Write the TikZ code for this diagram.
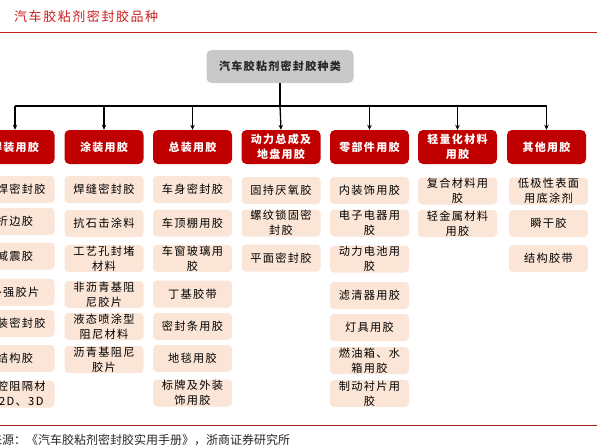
\documentclass[tikz,border=0pt]{standalone}
\usepackage{fontspec}
\setmainfont{Noto Sans CJK SC}[LetterSpace=12]
\newfontfamily\srcfont{Noto Sans CJK SC}
\usetikzlibrary{arrows.meta}
\definecolor{hred}{RGB}{192,0,0}
\definecolor{ipink}{RGB}{251,229,214}
\definecolor{tgray}{RGB}{201,201,201}
\definecolor{lred}{RGB}{200,30,30}
\definecolor{bred}{RGB}{165,35,35}
\tikzset{
  head/.style={fill=hred, text=white, rounded corners=5pt, minimum width=79pt, minimum height=34pt,
    font=\bfseries\fontsize{11}{15}\selectfont, align=center, inner sep=0pt},
  item/.style={fill=ipink, rounded corners=4pt, minimum width=79pt, minimum height=27pt,
    font=\fontsize{11.2}{15}\selectfont, align=center, inner sep=0pt, text=black},
  topbox/.style={fill=tgray, rounded corners=5pt, minimum width=147pt, minimum height=33pt,
    font=\bfseries\fontsize{11}{15}\selectfont, inner sep=0pt, text=black!85},
  link/.style={line width=1.3pt, black},
  arr/.style={link, -{Stealth[length=5pt,width=4.5pt]}},
  rule/.style={line width=1pt}
}
\begin{document}
\begin{tikzpicture}[x=1pt,y=-1pt]
\useasboundingbox (0,0) rectangle (597,447);
\clip (0,0) rectangle (597,447);
% title and rules
\node[anchor=west, text=lred, font=\fontsize{13}{15}\selectfont, inner sep=0pt] (title) at (14,17) {汽车胶粘剂密封胶品种};
\coordinate (tl) at (0,32); \coordinate (tr) at (597,32);
\draw[rule, lred] (tl) -- (tr);
\coordinate (bl) at (0,425); \coordinate (br) at (597,425);
\draw[rule, bred] (bl) -- (br);
\node[anchor=west, text=black!85, font=\srcfont\fontsize{12}{14}\selectfont, inner sep=0pt] (src) at (-10,440) {来源：《汽车胶粘剂密封胶实用手册》，浙商证券研究所};
% top node
\node[topbox] (top) at (280,66.5) {汽车胶粘剂密封胶种类};
% bar coordinates
\coordinate (b1) at (15,106);
\coordinate (b2) at (104,106);
\coordinate (b3) at (192.5,106);
\coordinate (b4) at (280,106);
\coordinate (b5) at (369.5,106);
\coordinate (b6) at (457.5,106);
\coordinate (b7) at (546.5,106);
% headers
\node[head] (h1) at (15,147) {焊装用胶};
\node[head] (h2) at (104,147) {涂装用胶};
\node[head] (h3) at (192.5,147) {总装用胶};
\node[head] (h4) at (281,147) {动力总成及\\地盘用胶};
\node[head] (h5) at (369.5,147) {零部件用胶};
\node[head] (h6) at (457.5,147) {轻量化材料\\用胶};
\node[head] (h7) at (546.5,147) {其他用胶};
% connectors
\draw[link] (top.south) -- (b4);
\draw[link] (b1) -- (b7);
\foreach \i in {1,...,7}{\draw[arr] (b\i) -- (h\i.north);}
% column 1
\node[item] (a1) at (15,189.5) {点焊密封胶};
\node[item] (a2) at (15,221.5) {折边胶};
\node[item] (a3) at (15,256) {减震胶};
\node[item] (a4) at (15,292) {补强胶片};
\node[item] (a5) at (15,323.5) {焊装密封胶};
\node[item] (a6) at (15,358.5) {结构胶};
\node[item] (a7) at (15,394) {空腔阻隔材\\料2D、3D};
% column 2
\node[item] (c1) at (104,189.5) {焊缝密封胶};
\node[item] (c2) at (104,223.5) {抗石击涂料};
\node[item] (c3) at (104,258.5) {工艺孔封堵\\材料};
\node[item] (c4) at (104,294.5) {非沥青基阻\\尼胶片};
\node[item] (c5) at (104,326.5) {液态喷涂型\\阻尼材料};
\node[item] (c6) at (104,359.5) {沥青基阻尼\\胶片};
% column 3
\node[item] (d1) at (192.5,189.5) {车身密封胶};
\node[item] (d2) at (192.5,223) {车顶棚用胶};
\node[item] (d3) at (192.5,258.5) {车窗玻璃用\\胶};
\node[item] (d4) at (192.5,294) {丁基胶带};
\node[item] (d5) at (192.5,326.5) {密封条用胶};
\node[item] (d6) at (192.5,358.5) {地毯用胶};
\node[item] (d7) at (192.5,393) {标牌及外装\\饰用胶};
% column 4
\node[item] (e1) at (281,190.5) {固持厌氧胶};
\node[item] (e2) at (281,223) {螺纹锁固密\\封胶};
\node[item] (e3) at (281,258) {平面密封胶};
% column 5
\node[item] (f1) at (369.5,190.5) {内装饰用胶};
\node[item] (f2) at (369.5,223) {电子电器用\\胶};
\node[item] (f3) at (369.5,259) {动力电池用\\胶};
\node[item] (f4) at (369.5,295.5) {滤清器用胶};
\node[item] (f5) at (369.5,327.5) {灯具用胶};
\node[item] (f6) at (369.5,360.5) {燃油箱、水\\箱用胶};
\node[item] (f7) at (369.5,393.5) {制动衬片用\\胶};
% column 6
\node[item] (g1) at (457.5,191) {复合材料用\\胶};
\node[item] (g2) at (457.5,223.5) {轻金属材料\\用胶};
% column 7
\node[item] (k1) at (548.5,191) {低极性表面\\用底涂剂};
\node[item] (k2) at (548.5,223.5) {瞬干胶};
\node[item] (k3) at (548.5,258.5) {结构胶带};
\end{tikzpicture}
\end{document}
